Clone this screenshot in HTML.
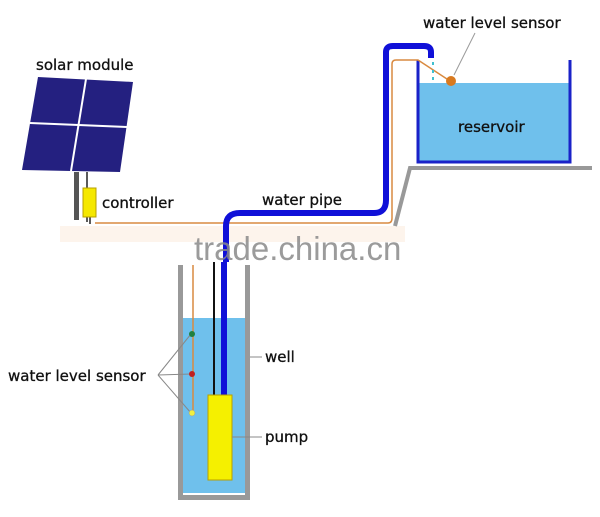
<!DOCTYPE html>
<html><head><meta charset="utf-8"><style>
html,body{margin:0;padding:0;background:#fff;}
svg{display:block;}
text{font-family:"DejaVu Sans","Liberation Sans",sans-serif;fill:#111;stroke:#111;stroke-width:0.3;}
</style></head><body>
<svg width="600" height="517" viewBox="0 0 600 517" xmlns="http://www.w3.org/2000/svg">
<!-- faded band -->
<rect x="60" y="226" width="345" height="16" fill="#fdf4ec"/>
<!-- solar panel -->
<polygon points="38,77 133,82 120,172 22,170" fill="#242080"/>
<line x1="86" y1="79" x2="71" y2="171" stroke="#fff" stroke-width="2"/>
<line x1="30" y1="123" x2="127" y2="127" stroke="#fff" stroke-width="2"/>
<rect x="74" y="172" width="5" height="48" fill="#555"/>
<line x1="87" y1="172" x2="87" y2="222" stroke="#222" stroke-width="1.5"/>
<line x1="90" y1="215" x2="90" y2="224" stroke="#222" stroke-width="1.5"/>
<rect x="83" y="188" width="13" height="29" fill="#f5e800" stroke="#b8a000" stroke-width="1"/>
<text x="102" y="208" font-size="15">controller</text>
<text x="36" y="70" font-size="15">solar module</text>
<!-- platform -->
<polyline points="395,226 410,168 592,168" fill="none" stroke="#999" stroke-width="4"/>
<!-- reservoir -->
<rect x="418" y="83" width="152" height="79" fill="#6fc0ec"/>
<polyline points="418,60 418,162 570,162 570,60" fill="none" stroke="#1a22c8" stroke-width="3"/>
<text x="458" y="132" font-size="15">reservoir</text>
<!-- orange wire -->
<path d="M95,223 L388,223 Q392,223 392,218 L392,64 Q392,60 396,60 L418,60 L450,81" fill="none" stroke="#d98a40" stroke-width="1.5"/>
<circle cx="451" cy="81" r="5" fill="#d87a20"/>
<line x1="454" y1="75" x2="475" y2="33" stroke="#999" stroke-width="1"/>
<text x="423" y="28" font-size="15">water level sensor</text>
<g fill="#40c0d0"><rect x="432" y="62" width="2" height="3"/><rect x="432" y="70" width="2" height="3"/><rect x="432" y="77" width="2" height="3"/></g>
<!-- blue pipe -->
<path d="M226,262 L226,226 Q226,213 240,213 L374,213 Q386,213 386,200 L386,52 Q386,46 393,46 L424,46 Q431,46 431,52 L431,58" fill="none" stroke="#1010d8" stroke-width="6"/>
<text x="262" y="205" font-size="15">water pipe</text>
<!-- well -->
<rect x="178" y="265" width="72" height="235" fill="#999"/>
<rect x="183" y="265" width="62" height="230" fill="#fff"/>
<rect x="183" y="318" width="62" height="175" fill="#6fc0ec"/>
<line x1="193" y1="265" x2="193" y2="413" stroke="#d98a40" stroke-width="1.5"/>
<line x1="214" y1="262" x2="214" y2="396" stroke="#111" stroke-width="2"/>
<line x1="224" y1="262" x2="224" y2="396" stroke="#1010d8" stroke-width="6"/>
<rect x="208" y="395" width="24" height="85" fill="#f5f000" stroke="#b8a000" stroke-width="1"/>
<line x1="158" y1="375" x2="191" y2="334" stroke="#888" stroke-width="1"/>
<line x1="158" y1="375" x2="191" y2="374" stroke="#888" stroke-width="1"/>
<line x1="158" y1="375" x2="191" y2="413" stroke="#888" stroke-width="1"/>
<circle cx="192" cy="334" r="3" fill="#208040"/>
<circle cx="192" cy="374" r="3" fill="#c02020"/>
<circle cx="192" cy="413" r="3" fill="#f0f040" stroke="#999" stroke-width="0.5"/>
<text x="8" y="381" font-size="15">water level sensor</text>
<line x1="250" y1="357" x2="262" y2="357" stroke="#888" stroke-width="1"/>
<text x="265" y="362" font-size="15">well</text>
<line x1="232" y1="437" x2="262" y2="437" stroke="#888" stroke-width="1"/>
<text x="265" y="442" font-size="15">pump</text>
<!-- watermark -->
<text x="194" y="260" font-size="33" style="font-family:'Liberation Sans',sans-serif;fill:#8a8a8a;stroke:none;opacity:0.85">trade.china.cn</text>
</svg>
</body></html>
